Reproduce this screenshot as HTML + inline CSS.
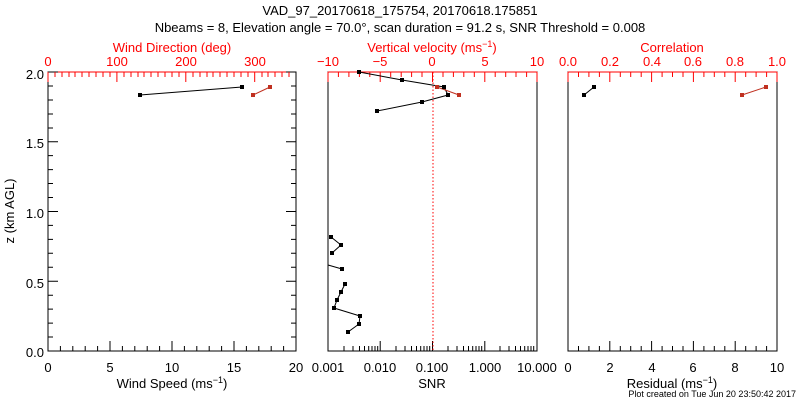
<!DOCTYPE html>
<html><head><style>body{margin:0;background:#fff}svg{display:block}text{font-family:"Liberation Sans",sans-serif;font-size:13px}</style></head><body>
<svg width="800" height="400" xmlns="http://www.w3.org/2000/svg">
<rect width="800" height="400" fill="#fff"/>
<text x="400" y="15" text-anchor="middle">VAD_97_20170618_175754, 20170618.175851</text>
<text x="400" y="32" text-anchor="middle">Nbeams = 8, Elevation angle = 70.0°, scan duration = 91.2 s, SNR Threshold = 0.008</text>
<g fill="none" stroke="#000">
<rect x="48" y="72" width="248" height="279"/>
<rect x="328" y="72" width="209" height="279"/>
<rect x="568" y="72" width="209" height="279"/>
</g>
<g stroke="#f00"><line x1="48" y1="72" x2="296" y2="72"/><line x1="328" y1="72" x2="537" y2="72"/><line x1="568" y1="72" x2="777" y2="72"/></g>
<g id="tk" stroke-width="1">
<path stroke="#000" d="M48 351v-10M110 351v-10M172 351v-10M234 351v-10M296 351v-10M60.4 351v-5M72.8 351v-5M85.2 351v-5M97.6 351v-5M122.4 351v-5M134.8 351v-5M147.2 351v-5M159.6 351v-5M184.4 351v-5M196.8 351v-5M209.2 351v-5M221.6 351v-5M246.4 351v-5M258.8 351v-5M271.2 351v-5M283.6 351v-5"/>
<path stroke="#000" d="M568 351v-10M609.8 351v-10M651.6 351v-10M693.4 351v-10M735.2 351v-10M777 351v-10M578.5 351v-5M588.9 351v-5M599.4 351v-5M620.3 351v-5M630.7 351v-5M641.2 351v-5M662.1 351v-5M672.5 351v-5M683 351v-5M703.9 351v-5M714.3 351v-5M724.8 351v-5M745.7 351v-5M756.1 351v-5M766.6 351v-5"/>
<path stroke="#000" d="M328 351v-10M380.2 351v-10M432.5 351v-10M484.8 351v-10M344 351v-5M353 351v-5M359.5 351v-5M364.5 351v-5M368.7 351v-5M372 351v-5M375 351v-5M377.7 351v-5M396 351v-5M405 351v-5M411.5 351v-5M416.5 351v-5M420.7 351v-5M424 351v-5M427 351v-5M429.7 351v-5M448 351v-5M457 351v-5M463.5 351v-5M468.5 351v-5M472.7 351v-5M476 351v-5M479 351v-5M481.7 351v-5M500 351v-5M509 351v-5M515.5 351v-5M520.5 351v-5M524.7 351v-5M528 351v-5M531 351v-5M533.7 351v-5"/>
<path stroke="#000" d="M48 72h10M48 141.75h10M48 211.5h10M48 281.25h10M48 351h10M48 86h5M48 100h5M48 114h5M48 128h5M48 155.6h5M48 169.6h5M48 183.5h5M48 197.5h5M48 225.4h5M48 239.4h5M48 253.3h5M48 267.3h5M48 295.2h5M48 309.1h5M48 323.1h5M48 337h5M296 72h-10M296 141.75h-10M296 211.5h-10M296 281.25h-10M296 351h-10M296 86h-5M296 100h-5M296 114h-5M296 128h-5M296 155.6h-5M296 169.6h-5M296 183.5h-5M296 197.5h-5M296 225.4h-5M296 239.4h-5M296 253.3h-5M296 267.3h-5M296 295.2h-5M296 309.1h-5M296 323.1h-5M296 337h-5"/>
<path stroke="#f00" d="M48 72v10M116.9 72v10M185.8 72v10M254.7 72v10M55 72v5M62 72v5M69 72v5M75 72v5M82 72v5M89 72v5M96 72v5M103 72v5M110 72v5M124 72v5M131 72v5M138 72v5M144 72v5M151 72v5M158 72v5M165 72v5M172 72v5M179 72v5M193 72v5M200 72v5M207 72v5M213 72v5M220 72v5M227 72v5M234 72v5M241 72v5M248 72v5M262 72v5M268 72v5M275 72v5M282 72v5M289 72v5"/>
<path stroke="#f00" d="M328 72v10M380.2 72v10M432.5 72v10M484.8 72v10M537 72v10M338.4 72v5M348.9 72v5M359.4 72v5M369.8 72v5M390.7 72v5M401.2 72v5M411.6 72v5M422 72v5M443 72v5M453.4 72v5M463.8 72v5M474.3 72v5M495.2 72v5M505.7 72v5M516 72v5M526.6 72v5"/>
<path stroke="#f00" d="M568 72v10M609.8 72v10M651.6 72v10M693.4 72v10M735.2 72v10M777 72v10M578.5 72v5M588.9 72v5M599.4 72v5M620.3 72v5M630.7 72v5M641.2 72v5M662.1 72v5M672.5 72v5M683 72v5M703.9 72v5M714.3 72v5M724.8 72v5M745.7 72v5M756.1 72v5M766.6 72v5"/>
</g>
<g text-anchor="middle">
<text x="48" y="372">0</text><text x="110" y="372">5</text><text x="172" y="372">10</text><text x="234" y="372">15</text><text x="296" y="372">20</text>
<text x="328" y="372">0.001</text><text x="380" y="372">0.010</text><text x="432" y="372">0.100</text><text x="485" y="372">1.000</text><text x="537" y="372">10.000</text>
<text x="568" y="372">0</text><text x="610" y="372">2</text><text x="652" y="372">4</text><text x="693" y="372">6</text><text x="735" y="372">8</text><text x="777" y="372">10</text>
<text x="172" y="388">Wind Speed (ms<tspan dy="-5" font-size="9">−1</tspan><tspan dy="5">)</tspan></text>
<text x="432" y="388">SNR</text>
<text x="672" y="388">Residual (ms<tspan dy="-5" font-size="9">−1</tspan><tspan dy="5">)</tspan></text>
</g>
<g text-anchor="middle" fill="#f00">
<text x="48" y="66">0</text><text x="117" y="66">100</text><text x="186" y="66">200</text><text x="255" y="66">300</text>
<text x="172" y="52">Wind Direction (deg)</text>
<text x="328" y="66">−10</text><text x="380" y="66">−5</text><text x="432" y="66">0</text><text x="485" y="66">5</text><text x="537" y="66">10</text>
<text x="432" y="52">Vertical velocity (ms<tspan dy="-5" font-size="9">−1</tspan><tspan dy="5">)</tspan></text>
<text x="568" y="66">0.0</text><text x="610" y="66">0.2</text><text x="652" y="66">0.4</text><text x="693" y="66">0.6</text><text x="735" y="66">0.8</text><text x="777" y="66">1.0</text>
<text x="672" y="52">Correlation</text>
</g>
<g text-anchor="end"><text x="44" y="79">2.0</text><text x="44" y="148">1.5</text><text x="44" y="218">1.0</text><text x="44" y="288">0.5</text><text x="44" y="357">0.0</text></g>
<text transform="translate(14,211) rotate(-90)" text-anchor="middle">z (km AGL)</text>
<text x="796" y="397" text-anchor="end" font-size="9" style="font-size:9px">Plot created on Tue Jun 20 23:50:42 2017</text>
<line x1="433" y1="72" x2="433" y2="351" stroke="#f00" stroke-dasharray="1.5,2"/>
<g stroke="#000" fill="none">
<polyline points="140,95 242,87"/>
<polyline points="359,72 402,80 444,87 448,95 422,102 377,111"/>
<polyline points="331,237 341,245 332,253"/>
<polyline points="328,265 342,269"/>
<polyline points="345,284 341,292 337,300 334,308 360,316 359,324 348,332"/>
<polyline points="584,95 594,87"/>
</g>
<g stroke="#c03020" fill="none"><polyline points="253,95 270,87"/><polyline points="437,87 459,95"/><polyline points="742,95 766,87"/></g>
<g fill="#000">
<rect x="138" y="93" width="4" height="4"/><rect x="240" y="85" width="4" height="4"/>
<rect x="357" y="70" width="4" height="4"/><rect x="400" y="78" width="4" height="4"/><rect x="442" y="85" width="4" height="4"/><rect x="446" y="93" width="4" height="4"/><rect x="420" y="100" width="4" height="4"/><rect x="375" y="109" width="4" height="4"/>
<rect x="329" y="235" width="4" height="4"/><rect x="339" y="243" width="4" height="4"/><rect x="330" y="251" width="4" height="4"/><rect x="340" y="267" width="4" height="4"/>
<rect x="343" y="282" width="4" height="4"/><rect x="339" y="290" width="4" height="4"/><rect x="335" y="298" width="4" height="4"/><rect x="332" y="306" width="4" height="4"/><rect x="358" y="314" width="4" height="4"/><rect x="357" y="322" width="4" height="4"/><rect x="346" y="330" width="4" height="4"/>
<rect x="582" y="93" width="4" height="4"/><rect x="592" y="85" width="4" height="4"/>
</g>
<g fill="#c03020">
<rect x="251" y="93" width="4" height="4"/><rect x="268" y="85" width="4" height="4"/>
<rect x="435" y="85" width="4" height="4"/><rect x="457" y="93" width="4" height="4"/>
<rect x="740" y="93" width="4" height="4"/><rect x="764" y="85" width="4" height="4"/>
</g>
</svg>
</body></html>
